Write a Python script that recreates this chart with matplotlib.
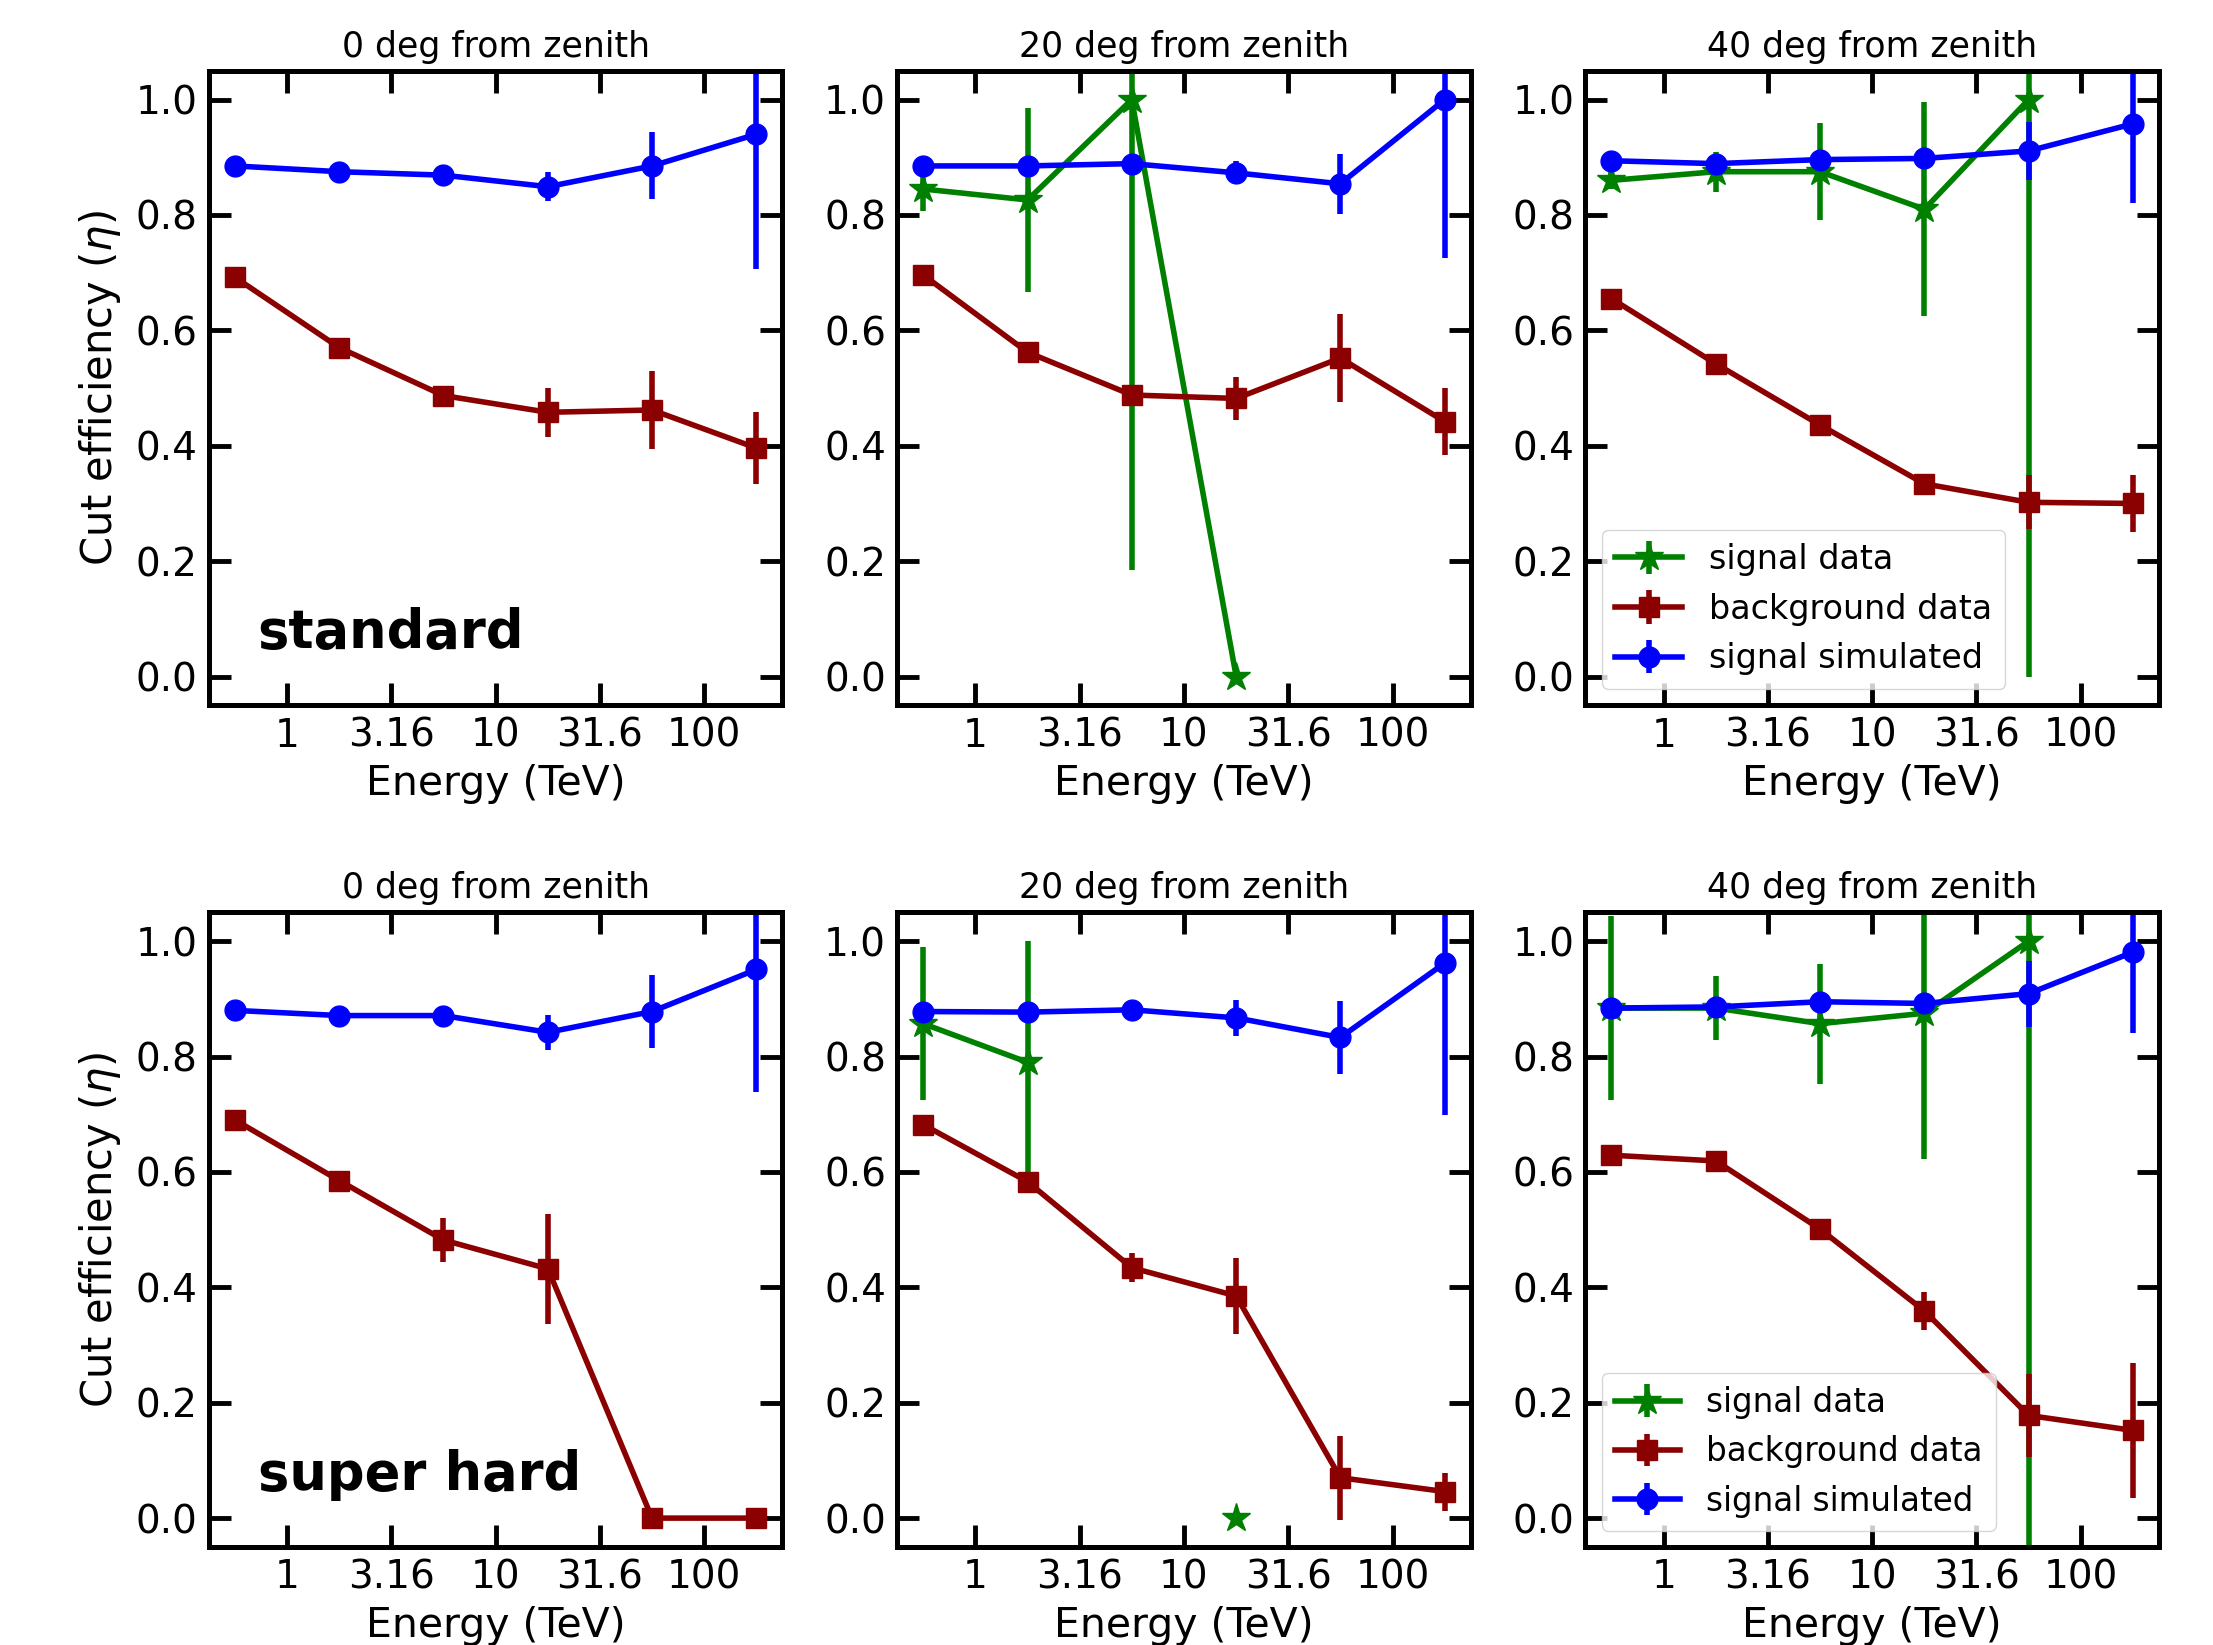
import numpy as np
import matplotlib.pyplot as plt

# energy bin centres (TeV)
energy = [0.562, 1.78, 5.62, 17.8, 56.2, 178.0]
zeniths = ['0 deg from zenith', '20 deg from zenith', '40 deg from zenith']
cut_names = ['standard', 'super hard']
nan = np.nan

# --- standard cuts ---
std_sig_sim = [[0.885, 0.875, 0.869, 0.849, 0.885, 0.940],
               [0.885, 0.885, 0.889, 0.873, 0.854, 1.000],
               [0.894, 0.889, 0.896, 0.898, 0.911, 0.958]]
std_sig_sim_err = [[0.006, 0.006, 0.008, 0.025, 0.058, 0.234],
                   [0.006, 0.006, 0.008, 0.020, 0.052, 0.275],
                   [0.006, 0.006, 0.008, 0.010, 0.050, 0.138]]
std_bkg = [[0.692, 0.570, 0.487, 0.458, 0.462, 0.396],
           [0.696, 0.562, 0.488, 0.482, 0.552, 0.442],
           [0.655, 0.542, 0.436, 0.334, 0.302, 0.300]]
std_bkg_err = [[0.008, 0.010, 0.014, 0.042, 0.067, 0.062],
               [0.008, 0.010, 0.012, 0.038, 0.077, 0.058],
               [0.008, 0.008, 0.010, 0.012, 0.047, 0.050]]
std_sig_data = [[nan, nan, nan, nan, nan, nan],
                [0.845, 0.826, 1.000, 0.000, nan, nan],
                [0.860, 0.875, 0.875, 0.810, 1.000, nan]]
std_sig_data_err = [[nan, nan, nan, nan, nan, nan],
                    [0.038, 0.160, 0.815, 0.000, nan, nan],
                    [0.015, 0.035, 0.084, 0.185, 1.000, nan]]

# --- super hard cuts ---
sh_sig_sim = [[0.880, 0.871, 0.871, 0.842, 0.878, 0.951],
              [0.878, 0.877, 0.881, 0.867, 0.833, 0.962],
              [0.884, 0.886, 0.895, 0.892, 0.909, 0.981]]
sh_sig_sim_err = [[0.006, 0.006, 0.008, 0.030, 0.064, 0.212],
                  [0.006, 0.006, 0.008, 0.031, 0.064, 0.263],
                  [0.006, 0.006, 0.008, 0.012, 0.057, 0.141]]
sh_bkg = [[0.690, 0.585, 0.482, 0.432, 0.000, 0.000],
          [0.682, 0.583, 0.434, 0.385, 0.070, 0.046],
          [0.629, 0.619, 0.501, 0.359, 0.178, 0.152]]
sh_bkg_err = [[0.008, 0.010, 0.038, 0.095, 0.000, 0.000],
              [0.008, 0.010, 0.025, 0.066, 0.073, 0.033],
              [0.008, 0.008, 0.012, 0.033, 0.072, 0.117]]
sh_sig_data = [[nan, nan, nan, nan, nan, nan],
               [0.857, 0.790, nan, 0.000, nan, nan],
               [0.884, 0.884, 0.857, 0.875, 1.000, nan]]
sh_sig_data_err = [[nan, nan, nan, nan, nan, nan],
                   [0.133, 0.210, nan, 0.000, nan, nan],
                   [0.160, 0.056, 0.104, 0.253, 1.100, nan]]

rows = [(std_sig_data, std_sig_data_err, std_bkg, std_bkg_err, std_sig_sim, std_sig_sim_err),
        (sh_sig_data, sh_sig_data_err, sh_bkg, sh_bkg_err, sh_sig_sim, sh_sig_sim_err)]

plt.rcParams['font.family'] = 'DejaVu Sans'
fig, axes = plt.subplots(2, 3, figsize=(22.13, 16.45), dpi=100)
fig.subplots_adjust(left=0.0944, right=0.9756, top=0.957, bottom=0.0596,
                    wspace=0.2, hspace=0.326)

kw = dict(lw=4, elinewidth=4, ms=15)
for r, (sd, sde, bk, bke, ss, sse) in enumerate(rows):
    for c in range(3):
        ax = axes[r, c]
        ax.errorbar(energy, sd[c], yerr=sde[c], color='green', marker='*',
                    ms=21, lw=4, elinewidth=4, label='signal data')
        ax.errorbar(energy, bk[c], yerr=bke[c], color='darkred', marker='s',
                    label='background data', **kw)
        ax.errorbar(energy, ss[c], yerr=sse[c], color='blue', marker='o',
                    label='signal simulated', **kw)
        ax.set_xscale('log')
        ax.set_xlim(10 ** -0.375, 10 ** 2.375)
        ax.set_ylim(-0.05, 1.05)
        ax.set_xticks([1, 3.16, 10, 31.6, 100])
        ax.set_xticklabels(['1', '3.16', '10', '31.6', '100'])
        ax.minorticks_off()
        ax.set_yticks([0.0, 0.2, 0.4, 0.6, 0.8, 1.0])
        ax.tick_params(which='both', direction='in', top=True, right=True,
                       length=16, width=3.5, labelsize=28, pad=8)
        for sp in ax.spines.values():
            sp.set_linewidth(3.6)
        ax.set_title(zeniths[c], fontsize=25, pad=10)
        ax.set_xlabel('Energy (TeV)', fontsize=29.5, labelpad=7)
        if c == 0:
            ax.set_ylabel(r'Cut efficiency ($\eta$)', fontsize=30, labelpad=9)
            ax.text(0.085, 0.09, cut_names[r], transform=ax.transAxes,
                    fontsize=38, fontweight='bold', ha='left', va='baseline')
        if c == 2:
            ax.legend(loc='lower left', fontsize=24 if r == 0 else 23.5)

fig.savefig('out.png', dpi=100)
